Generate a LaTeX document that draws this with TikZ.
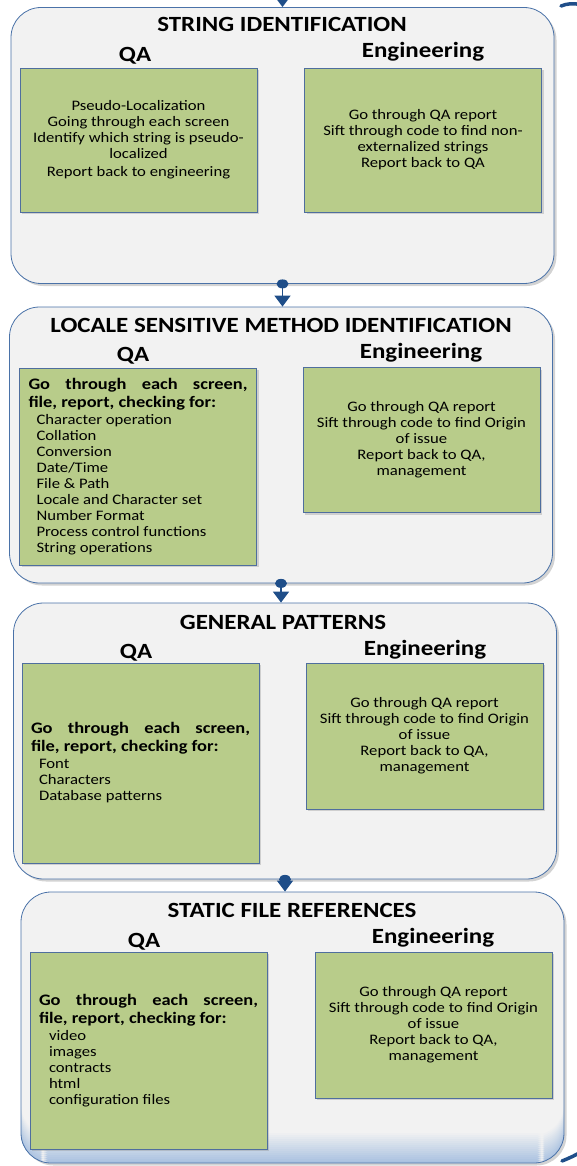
\documentclass[tikz,border=0pt]{standalone}
\usepackage{fontspec}
\setmainfont{Carlito}[FakeStretch=1.15]
\usepackage{tikz}
\usetikzlibrary{arrows.meta, shadows}
\definecolor{panelFill}{HTML}{F2F2F2}
\definecolor{panelLine}{HTML}{4A72A8}
\definecolor{panelBlue}{HTML}{A9C1E0}
\definecolor{boxFill}{HTML}{B8CC8A}
\definecolor{boxLine}{HTML}{4F6E9E}
\definecolor{linkBlue}{HTML}{1F4E89}

\begin{document}
\begin{tikzpicture}[x=1pt, y=-1pt,
  panel/.style={draw=panelLine, fill=panelFill, line width=0.8pt, rounded corners=30pt,
    minimum width=543pt, minimum height=276pt,
    drop shadow={shadow xshift=2.5pt, shadow yshift=-2.5pt, opacity=0.35}},
  panelfade/.style={path picture={
    \foreach \k in {0,...,15} {
      \pgfmathsetmacro{\fadeTop}{32-2*\k}
      \pgfmathtruncatemacro{\fadeMix}{\k*6.6}
      \fill[panelBlue!\fadeMix!panelFill] ([yshift=\fadeTop pt]path picture bounding box.south west)
        rectangle ([yshift=\fadeTop pt-2.2pt]path picture bounding box.south east);
    }}},
  title/.style={font=\bfseries\fontsize{21.7}{22}\selectfont, anchor=base, inner sep=0pt},
  head/.style={font=\bfseries\fontsize{21.7}{22}\selectfont, anchor=base, inner sep=0pt},
  box/.style={draw=boxLine, fill=boxFill, line width=0.7pt, minimum width=237pt,
    minimum height=145pt, align=center, font=\fontsize{14.5}{16}\selectfont,
    drop shadow={shadow xshift=2pt, shadow yshift=-2pt, opacity=0.3}},
  list/.style={box, minimum height=198pt, text width=219pt, align=justify, inner xsep=9pt},
  link/.style={draw=linkBlue, line width=1.5pt, -{Triangle[width=16pt, length=11pt]}},
  dot/.style={fill=linkBlue},
  loopline/.style={draw=linkBlue, line width=3.5pt, line cap=round}
]
  \useasboundingbox (0,0) rectangle (576,1166);

  % Panels
  \node[panel] (p1) at (282.5,145.5) {};
  \node[panel] (p2) at (281,445) {};
  \node[panel] (p3) at (285,741) {};
  \node[panel, panelfade, minimum height=271pt] (p4) at (292.5,1027.5) {};

  % String identification
  \node[title] (t1) at (282,32) {STRING IDENTIFICATION};
  \node[head] (qaHead1) at (135,62) {QA};
  \node[head] (engHead1) at (423,58) {Engineering};
  \node[box, minimum height=144pt] (qa1) at (138.5,140) {Pseudo-Localization\\Going through each screen\\Identify which string is pseudo-\\localized\\[2pt]Report back to engineering};
  \node[box, minimum height=144pt] (eng1) at (423,140) {Go through QA report\\Sift through code to find non-\\externalized strings\\Report back to QA};

  % Locale sensitive method identification
  \node[title] (t2) at (281,332) {LOCALE SENSITIVE METHOD IDENTIFICATION};
  \node[head] (qaHead2) at (133,361) {QA};
  \node[head] (engHead2) at (421,358) {Engineering};
  \node[list, minimum height=197pt] (qa2) at (138,466.5) {{\bfseries\fontsize{16}{18}\selectfont Go through each screen,\linebreak file, report, checking for:\par}\vspace{1pt}
    \hspace*{8pt}Character operation\\
    \hspace*{8pt}Collation\\
    \hspace*{8pt}Conversion\\
    \hspace*{8pt}Date/Time\\
    \hspace*{8pt}File \& Path\\
    \hspace*{8pt}Locale and Character set\\
    \hspace*{8pt}Number Format\\
    \hspace*{8pt}Process control functions\\
    \hspace*{8pt}String operations};
  \node[box] (eng2) at (421.5,440) {Go through QA report\\Sift through code to find Origin\\of issue\\Report back to QA,\\management};

  % General patterns
  \node[title] (t3) at (283,629) {GENERAL PATTERNS};
  \node[head] (qaHead3) at (136,658) {QA};
  \node[head] (engHead3) at (425,655) {Engineering};
  \node[list, minimum height=200pt] (qa3) at (140.5,763) {{\bfseries\fontsize{16}{18}\selectfont Go through each screen,\linebreak file, report, checking for:\par}\vspace{1pt}
    \hspace*{8pt}Font\\
    \hspace*{8pt}Characters\\
    \hspace*{8pt}Database patterns};
  \node[box, minimum height=146pt] (eng3) at (424.5,736) {Go through QA report\\Sift through code to find Origin\\of issue\\Report back to QA,\\management};

  % Static file references
  \node[title] (t4) at (292,917) {STATIC FILE REFERENCES};
  \node[head] (qaHead4) at (144,947) {QA};
  \node[head] (engHead4) at (433,943) {Engineering};
  \node[list, minimum height=197pt] (qa4) at (148.5,1050.5) {{\bfseries\fontsize{16}{18}\selectfont Go through each screen,\linebreak file, report, checking for:\par}\vspace{1pt}
    \hspace*{10pt}video\\
    \hspace*{10pt}images\\
    \hspace*{10pt}contracts\\
    \hspace*{10pt}html\\
    \hspace*{10pt}configuration files};
  \node[box, minimum height=146pt] (eng4) at (433.5,1025) {Go through QA report\\Sift through code to find Origin\\of issue\\Report back to QA,\\management};

  % Links between panels
  \coordinate (inTop) at (282.5,-25);
  \draw[link] (inTop) -- (p1.north);
  \fill[dot] (p1.south) ellipse (6pt and 4.5pt);
  \draw[link] (p1.south) -- (p1.south |- p2.north);
  \fill[dot] (p2.south) ellipse (6pt and 4.5pt);
  \draw[link] (p2.south) -- (p2.south |- p3.north);
  \fill[dot] (p3.south) ellipse (6pt and 4.5pt);
  \draw[link] (p3.south) -- (p3.south |- p4.north);

  % Return loop along the right edge
  \coordinate (loopTop) at (561,6);
  \coordinate (loopBot) at (562,1161);
  \draw[loopline] (loopBot) .. controls (590,1150) and (620,1130) .. (620,1090) -- (620,60)
    .. controls (620,20) and (585,-4) .. (loopTop);
\end{tikzpicture}
\end{document}
